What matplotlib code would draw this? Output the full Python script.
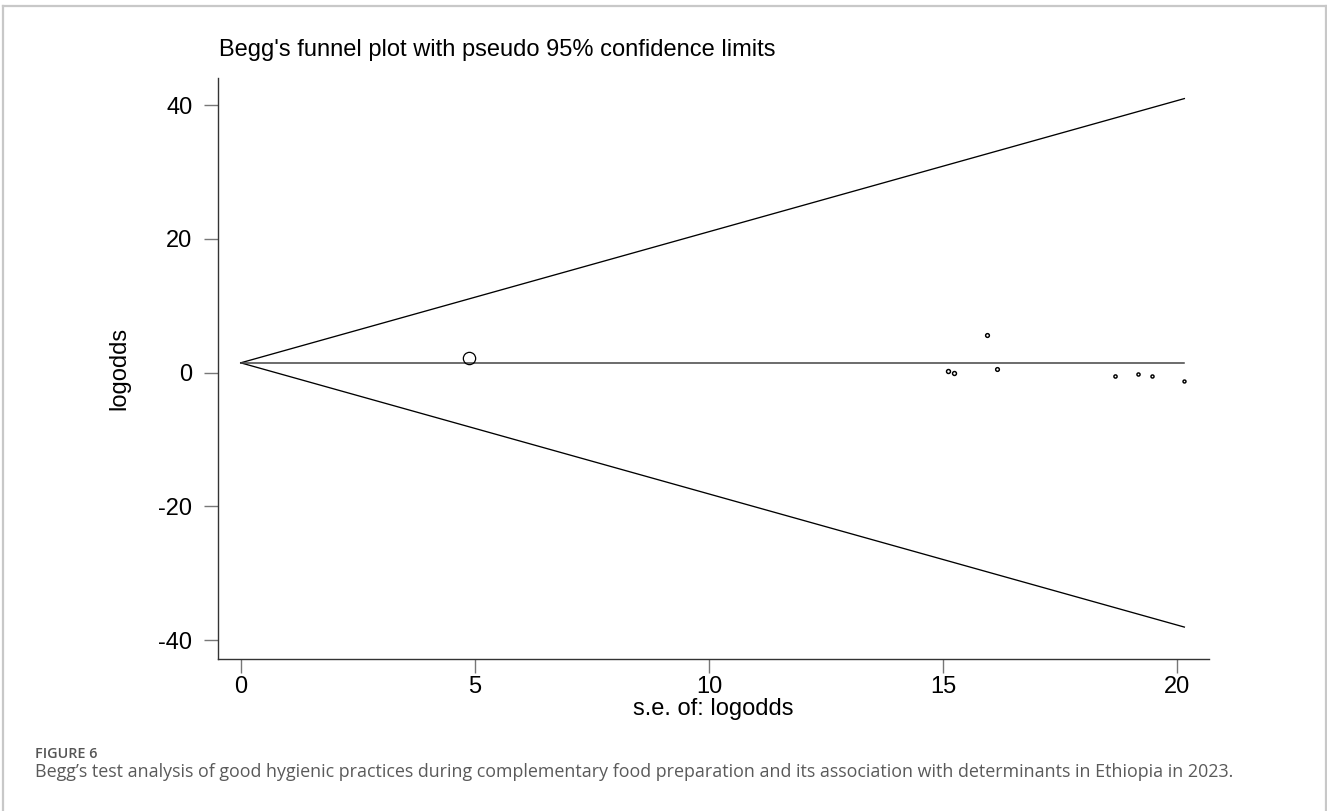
import matplotlib
matplotlib.use("Agg")
import matplotlib.pyplot as plt
from matplotlib.lines import Line2D
import numpy as np

# study estimates: standard error and log odds
se = [4.87, 15.11, 15.24, 15.94, 16.16, 18.67, 19.17, 19.46, 20.15]
logodds = [2.17, 0.27, -0.07, 5.65, 0.48, -0.47, -0.27, -0.52, -1.27]
pooled = 1.47          # fixed-effect pooled log odds
z95 = 1.96

xticks = [0, 5, 10, 15, 20]
yticks = [-40, -20, 0, 20, 40]

title = "Begg's funnel plot with pseudo 95% confidence limits"
xlabel = "s.e. of: logodds"
ylabel = "logodds"
fig_label = "FIGURE 6"
caption = ("Begg\u2019s test analysis of good hygienic practices during complementary "
           "food preparation and its association with determinants in Ethiopia in 2023.")

W, H = 1327, 811
fig = plt.figure(figsize=(W / 100, H / 100), dpi=100)
ax = fig.add_axes([218 / W, 1 - 659.3 / H, (1208.7 - 218) / W, (659.3 - 78) / H])

sans = ["Liberation Sans", "DejaVu Sans"]

se_arr = np.array(se)
smax = se_arr.max()
# pseudo confidence limits and pooled line
ax.plot([0, smax], [pooled, pooled + z95 * smax], color="black", lw=0.95)
ax.plot([0, smax], [pooled, pooled - z95 * smax], color="black", lw=0.95)
ax.plot([0, smax], [pooled, pooled], color="#444444", lw=1.1)

# marker diameter proportional to 1/se (weight-sized symbols)
for s, y in zip(se, logodds):
    d = 12.3 * se[0] / s * 0.72
    ax.plot(s, y, marker="o", ms=d, mfc="none", mec="black",
            mew=0.9 if d > 4 else 1.05, ls="none")

ax.set_xlim(-0.485, 20.67)
ax.set_ylim(-42.84, 44.04)
ax.set_xticks(xticks)
ax.set_yticks(yticks)
ax.set_xticklabels([str(v) for v in xticks], family=sans, fontsize=17)
ax.set_yticklabels([str(v) for v in yticks], family=sans, fontsize=17)
ax.tick_params(axis="both", direction="out", length=10, width=1, color="#777777")
ax.tick_params(axis="x", pad=2)
ax.tick_params(axis="y", pad=8.5)

for side in ("top", "right"):
    ax.spines[side].set_visible(False)
for side in ("left", "bottom"):
    ax.spines[side].set_color("#333333")
    ax.spines[side].set_linewidth(1)

ax.set_xlabel(xlabel, family=sans, fontsize=17, labelpad=0)
ax.set_ylabel(ylabel, family=sans, fontsize=17)
ax.yaxis.set_label_coords((130 - 218) / (1208.7 - 218), 0.5)

fig.text(219 / W, 1 - 56 / H, title, family=sans, fontsize=17, va="baseline", ha="left")

# caption under the plot
fig.text(35 / W, 1 - 758 / H, fig_label, family=["Open Sans", "DejaVu Sans"], fontsize=10.4,
         fontweight="semibold", color="#555555", va="baseline", ha="left")
fig.text(35 / W, 1 - 777 / H, caption, family=["Open Sans", "DejaVu Sans"], fontsize=12.9,
         color="#5a5a5a", va="baseline", ha="left")

# light frame around the figure panel (open at the bottom)
frame = dict(color="#c8c8c8", lw=1.6, transform=fig.transFigure)
fig.add_artist(Line2D([3 / W, 1326 / W], [1 - 6 / H, 1 - 6 / H], **frame))
fig.add_artist(Line2D([3 / W, 3 / W], [0, 1 - 6 / H], **frame))
fig.add_artist(Line2D([1326 / W, 1326 / W], [0, 1 - 6 / H], **frame))

fig.savefig("out.png", dpi=100)
